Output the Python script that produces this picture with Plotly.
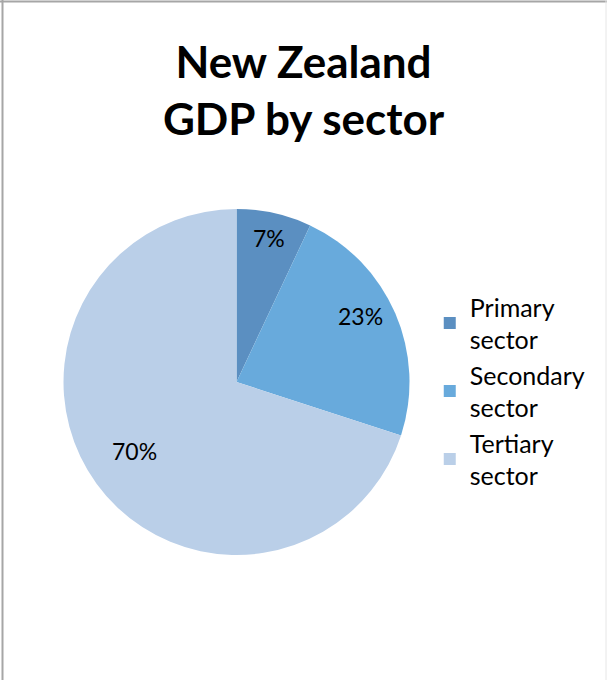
import math
import plotly.graph_objects as go

# GDP share by sector (percent)
sectors = ["Primary<br>sector", "Secondary<br>sector", "Tertiary<br>sector"]
shares = [7, 23, 70]
colors = ["#5B8FC1", "#68AADC", "#BACFE8"]

# percent label placement: fraction of radius along the slice bisector, plus a small angular nudge (deg)
label_radius = [0.85, 0.81, 0.71]
label_nudge = [0.0, -4.5, 2.0]

W, H = 607, 680
cx, cy, r = 236.5, 382.0, 173.0  # pie centre and radius in pixels

fig = go.Figure(
    go.Pie(
        labels=sectors,
        values=shares,
        sort=False,
        direction="clockwise",
        rotation=0,
        marker=dict(colors=colors, line=dict(width=0)),
        textinfo="none",
        hoverinfo="label+percent",
        domain=dict(
            x=[(cx - r) / W, (cx + r) / W],
            y=[(H - cy - r) / H, (H - cy + r) / H],
        ),
    )
)

# percent labels placed on each slice (angles clockwise from 12 o'clock)
total = sum(shares)
annotations = []
start = 0.0
for share, frac, nudge in zip(shares, label_radius, label_nudge):
    sweep = 360.0 * share / total
    mid = math.radians(start + sweep / 2 + nudge)
    px = cx + frac * r * math.sin(mid)
    py = cy - frac * r * math.cos(mid)
    annotations.append(
        dict(
            x=px / W,
            y=1 - py / H,
            xref="paper",
            yref="paper",
            text=f"{round(100 * share / total)}%",
            showarrow=False,
            xanchor="center",
            yanchor="middle",
            font=dict(family="Lato", size=23, color="#000000"),
        )
    )
    start += sweep

fig.update_layout(
    width=W,
    height=H,
    margin=dict(l=0, r=0, t=0, b=0),
    paper_bgcolor="white",
    plot_bgcolor="white",
    title=dict(
        text="New Zealand<br>GDP by sector",
        x=0.5,
        xanchor="center",
        y=1 - 78 / H,
        yanchor="top",
        font=dict(family="Lato", size=44, color="#000000", weight="bold"),
    ),
    legend=dict(
        x=0.708,
        xanchor="left",
        y=1 - 391 / H,
        yanchor="middle",
        font=dict(family="Lato", size=25, color="#000000"),
        itemwidth=30,
        bgcolor="rgba(0,0,0,0)",
    ),
    annotations=annotations,
    shapes=[
        dict(type="line", xref="paper", yref="paper", x0=0, x1=1, y0=1 - 1.5 / H, y1=1 - 1.5 / H,
             line=dict(color="#A6A6A6", width=2)),
        dict(type="line", xref="paper", yref="paper", x0=2.5 / W, x1=2.5 / W, y0=0, y1=1,
             line=dict(color="#A6A6A6", width=2)),
        dict(type="line", xref="paper", yref="paper", x0=1 - 1 / W, x1=1 - 1 / W, y0=0, y1=1,
             line=dict(color="#E6E6E6", width=1)),
    ],
)

fig.write_html("out.html")
